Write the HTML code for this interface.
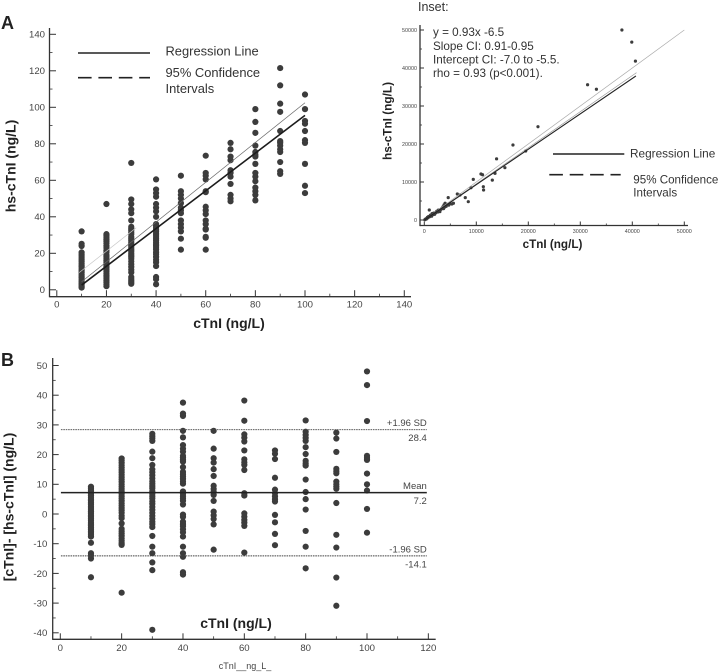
<!DOCTYPE html>
<html lang="en">
<head>
<meta charset="utf-8">
<title>cTnI vs hs-cTnI</title>
<style>
html,body{margin:0;padding:0;background:#fff;}
svg{display:block;font-family:"Liberation Sans",sans-serif;}
</style>
</head>
<body>
<svg id="chart" xmlns="http://www.w3.org/2000/svg" width="723" height="672" viewBox="0 0 723 672">
  <rect x="0" y="0" width="723" height="672" fill="#fff"/>
  <text x="1" y="29" font-size="18" font-weight="bold" fill="#222">A</text>
  <text x="1" y="366" font-size="18" font-weight="bold" fill="#222">B</text>

  <g id="panelA"></g>
  <g id="panelInset"></g>
  <g id="panelB"></g>

  <text x="229" y="328" text-anchor="middle" font-size="14" font-weight="bold" fill="#222">cTnI (ng/L)</text>
  <text transform="translate(15.5,166) rotate(-90)" text-anchor="middle" font-size="14" font-weight="bold" fill="#222">hs-cTnI (ng/L)</text>

  <g>
    <line x1="78" x2="150" y1="53" y2="53" stroke="#222" stroke-width="1.4"/>
    <line x1="78" x2="150" y1="77.7" y2="77.7" stroke="#222" stroke-width="1.6" stroke-dasharray="13.6 6.8"/>
    <text x="165.5" y="55.5" font-size="12.9" fill="#333">Regression Line</text>
    <text x="165.5" y="77" font-size="12.9" fill="#333">95% Confidence</text>
    <text x="165.5" y="93" font-size="12.9" fill="#333">Intervals</text>
  </g>

  <text x="418" y="11" font-size="12.5" fill="#333">Inset:</text>
  <g font-size="11.7" fill="#333">
    <text x="433" y="36">y = 0.93x -6.5</text>
    <text x="433" y="50">Slope CI: 0.91-0.95</text>
    <text x="433" y="63.5">Intercept CI: -7.0 to -5.5.</text>
    <text x="433" y="77">rho = 0.93 (p&lt;0.001).</text>
  </g>
  <g>
    <line x1="553" x2="624.3" y1="154" y2="154" stroke="#222" stroke-width="1.4"/>
    <line x1="549.3" x2="620.7" y1="174.7" y2="174.7" stroke="#222" stroke-width="1.6" stroke-dasharray="13.6 6.8"/>
    <text x="630" y="157.5" font-size="11.8" fill="#333">Regression Line</text>
    <text x="633.3" y="183.5" font-size="11.6" fill="#333">95% Confidence</text>
    <text x="633.3" y="196.7" font-size="11.6" fill="#333">Intervals</text>
  </g>
  <text x="552.5" y="248" text-anchor="middle" font-size="11.7" font-weight="bold" fill="#222">cTnI (ng/L)</text>
  <text transform="translate(391.7,121) rotate(-90)" text-anchor="middle" font-size="11.8" font-weight="bold" fill="#222">hs-cTnI (ng/L)</text>

  <text x="236" y="628" text-anchor="middle" font-size="14" font-weight="bold" fill="#222">cTnI (ng/L)</text>
  <text transform="translate(13.5,507) rotate(-90)" text-anchor="middle" font-size="14" font-weight="bold" fill="#222">[cTnI]- [hs-cTnI] (ng/L)</text>
  <text x="245" y="669" text-anchor="middle" font-size="9" fill="#444">cTnI__ng_L_</text>
</svg>

<script>
// Panel A data
const aCategories = [10, 20, 30, 40, 50, 60, 70, 80, 90, 100];
const aVals10 = [32, 25.2, 24, 20.5, 19.5, 18.5, 17.5, 16.5, 15.5, 14.5, 13.5, 12.5, 11.5, 10.5, 9.5, 8.5, 7.5, 6.5, 5.5, 4.5, 3.5, 2.8, 2, 1.2];
const aVals20 = [47, 30.5, 29.5, 28.5, 27.5, 26.5, 25.5, 24, 23, 21.5, 20.5, 19, 18, 17, 16, 15, 14, 13, 12, 11, 10, 9, 8, 7, 6, 5, 4, 3, 2];
const aVals30 = [69.5, 49.5, 47, 44, 42, 38, 34.5, 33.5, 32.5, 31.5, 30.5, 29, 28, 27, 26, 25, 24, 23, 22, 21, 20, 19, 18, 17, 15.5, 14, 12.5, 11, 9.5, 7, 6, 5, 4, 3.3];
const aVals40 = [60.5, 55, 53, 51, 47, 45, 43, 40, 36, 35, 34, 33, 32, 31, 30, 29, 28, 27, 26, 25, 24, 23, 22, 20.5, 19.5, 18, 16.5, 15, 13, 7, 5.8, 3];
const aVals50 = [62.5, 54, 52, 50, 47.5, 45, 43.5, 42, 38, 36, 34, 32, 28, 22];
const aVals60 = [73.5, 64, 62.5, 60.5, 54, 53.5, 45.5, 43.5, 41.5, 38, 36, 33.5, 33, 29, 28.5, 22];
const aVals70 = [80.5, 77, 73, 71, 65.5, 64, 62, 58, 52, 50, 48.5];
const aVals80 = [99, 92, 86, 79, 75.5, 74, 73, 69, 64, 62, 59.5, 56, 54, 52, 49];
const aVals90 = [121.5, 112, 102, 97.5, 87, 81.5, 80.5, 79, 77, 75.5, 70, 65, 63.5];
const aVals100 = [107, 99, 92.5, 91, 87, 82, 80.5, 69, 57, 53];
const aGroups = [aVals10, aVals20, aVals30, aVals40, aVals50, aVals60, aVals70, aVals80, aVals90, aVals100];
const aRegressionX = [10, 100];
const aRegressionY = [2.6, 95.6];
const aUpperCIX = [10, 100];
const aUpperCIY = [4.4, 102.5];
const aLightLineX = [9, 32];
const aLightLineY = [9.4, 34];
const aXTicks = [0, 20, 40, 60, 80, 100, 120, 140];
const aYTicks = [0, 20, 40, 60, 80, 100, 120, 140];
const aXMinor = [10, 30, 50, 70, 90, 110, 130];
const aYMinor = [10, 30, 50, 70, 90, 110, 130];

// Inset data
const insetX = [38000, 39900, 40600, 31400, 33100, 21860, 17050, 13900, 19500, 15500, 13600, 10900, 11200, 13080, 11350, 11400, 9420, 8970, 8460, 7880, 6350, 6860, 4600, 960,
  100, 200, 300, 400, 500, 600, 700, 800, 1000, 1100, 1200, 1400, 1500, 1700, 1800, 2000, 2200, 2400, 2600, 2700, 2900, 3000, 3200, 3400, 3600, 3700, 3800, 3900, 4000, 4200, 4400, 4700, 5000, 5300, 5600];
const insetY = [50000, 46800, 41800, 35600, 34400, 24560, 19740, 16100, 18160, 13770, 12280, 12100, 11900, 10500, 8770, 7900, 10700, 8500, 4820, 5880, 6840, 6580, 5880, 2630,
  80, 150, 300, 250, 450, 700, 600, 900, 850, 1100, 1300, 1000, 1700, 1400, 1800, 1500, 1900, 2300, 2100, 2600, 2500, 2200, 2800, 3100, 3500, 3000, 4000, 3400, 4400, 3600, 4100, 3900, 4300, 4200, 4400];
const insetRegressionX = [0, 40700];
const insetRegressionY = [0, 37900];
const insetCIX = [0, 40800];
const insetCIY = [0, 38770];
const insetIdentityX = [0, 50000];
const insetIdentityY = [0, 50000];
const insetTicks = [0, 10000, 20000, 30000, 40000, 50000];
const insetMinor = [5000, 15000, 25000, 35000, 45000];

// Panel B data
const bCategories = [10, 20, 30, 40, 50, 60, 70, 80, 90, 100];
const bVals10 = [9.2, 8.6, 8, 7.4, 6.8, 6.2, 5.6, 5, 4.4, 3.8, 3.2, 2.6, 2, 1.4, 0.8, 0.2, -0.4, -1, -1.6, -2.2, -2.8, -3.4, -4, -4.6, -5.2, -5.8, -6.4, -7, -7.6, -9.7, -13.2, -14, -15, -21.3];
const bVals20 = [18.7, 18, 17.2, 16.4, 15.6, 14.8, 14, 13.2, 12.4, 11.6, 10.8, 10, 9.2, 8.4, 7.6, 6.8, 6, 5.2, 4.4, 3.6, 2.8, 2, 1.2, 0.4, -0.6, -1.4, -3.2, -5, -5.8, -6.6, -7.4, -8.2, -9, -9.8, -10.4, -26.5];
const bVals30 = [27, 26.2, 25.5, 24.6, 21, 18.8, 16.5, 15, 14, 13, 12, 11, 10.2, 9.4, 8.6, 7.6, 6.8, 6, 5.2, 4.2, 3.4, 2.4, 1.4, 0.4, -0.6, -1.6, -2.6, -3.4, -4.4, -7.4, -11, -13.2, -16.3, -18.9, -39];
const bVals40 = [37.5, 33.8, 33, 28, 25.8, 23.2, 22, 21, 19.6, 19, 18.2, 17.6, 15.8, 14.2, 13.4, 12.6, 11.8, 11, 10.2, 7.6, 6.8, 6, 5.2, 4.4, 3.2, -0.2, -1, -2.6, -3.4, -4.2, -5.2, -6.2, -7.6, -11, -13.2, -14.4, -19.6, -20.4];
const bVals50 = [28, 22, 18.8, 17.3, 15.1, 12.8, 9.5, 8.4, 7.5, 6.4, 4.4, 0.8, -0.5, -1.7, -3.5, -12];
const bVals60 = [38.2, 31.4, 26.8, 25.7, 24.4, 21.4, 18.4, 17.4, 16.5, 14.8, 7, 6.2, 0.2, -0.9, -2, -2.9, -4, -13];
const bVals70 = [21.4, 20.3, 18.5, 12.2, 8.2, 7, 5.9, 5, 4.2, -0.3, -2.8, -6.7, -10.5];
const bVals80 = [31.5, 27.7, 26.6, 25.6, 24.6, 22.5, 20.2, 17.9, 17, 16.3, 11.6, 7.4, 5, 1.5, -5.7, -11, -18.3];
const bVals90 = [27.4, 25.4, 20.9, 15.2, 14.4, 13.7, 10.9, 10, 9.2, 8.5, 3.7, -7, -11.3, -21.4, -30.9];
const bVals100 = [48, 43.4, 31.3, 19.6, 18.9, 18.2, 13.6, 10, 7.9, 1.7, -6.3];
const bGroups = [bVals10, bVals20, bVals30, bVals40, bVals50, bVals60, bVals70, bVals80, bVals90, bVals100];
const bLineRange = [0.2, 119.5];
const bMean = 7.2;
const bUpper = 28.4;
const bLower = -14.1;
const bXTicks = [0, 20, 40, 60, 80, 100, 120];
const bXMinor = [10, 30, 50, 70, 90, 110];
const bYTicks = [-40, -30, -20, -10, 0, 10, 20, 30, 40, 50];
const bYMinor = [-35, -25, -15, -5, 5, 15, 25, 35, 45];
const bLabelTop = ["+1.96 SD", "Mean", "-1.96 SD"];
const bLabelBottom = ["28.4", "7.2", "-14.1"];

// Axis functions
const NS = 'http://www.w3.org/2000/svg';
const axA = { x: v => 56.8 + 2.482 * v, y: v => 289.8 - 1.825 * v };
const axI = { x: v => 424.3 + 0.0052 * v, y: v => 220 - 0.0038 * v };
const axB = { x: v => 60.3 + 3.067 * v, y: v => 514 - 2.97 * v };

function lineEl(parent, x1, y1, x2, y2, stroke, width, dash) {
  const l = document.createElementNS(NS, 'line');
  l.setAttribute('x1', x1);
  l.setAttribute('y1', y1);
  l.setAttribute('x2', x2);
  l.setAttribute('y2', y2);
  l.setAttribute('stroke', stroke);
  l.setAttribute('stroke-width', width);
  if (dash) l.setAttribute('stroke-dasharray', dash);
  parent.appendChild(l);
  return l;
}
function textEl(parent, x, y, str, size, anchor, fill) {
  const t = document.createElementNS(NS, 'text');
  t.setAttribute('x', x);
  t.setAttribute('y', y);
  t.setAttribute('font-size', size);
  t.setAttribute('text-anchor', anchor);
  t.setAttribute('fill', fill);
  t.textContent = str;
  parent.appendChild(t);
  return t;
}
function dotEl(parent, x, y, r) {
  const c = document.createElementNS(NS, 'circle');
  c.setAttribute('cx', x);
  c.setAttribute('cy', y);
  c.setAttribute('r', r);
  c.setAttribute('fill', '#3c3c3c');
  parent.appendChild(c);
  return c;
}
function drawAxes(g, ax, o) {
  const stroke = '#333';
  const sx = lineEl(g, o.spineX, o.top, o.spineX, o.spineY + 0.6, stroke, 1.3);
  
  
  const sy = lineEl(g, o.spineX, o.spineY, o.right, o.spineY, stroke, 1.3);
  
  
  o.xTicks.forEach(v => {
    const t = lineEl(g, ax.x(v), o.spineY, ax.x(v), o.spineY - o.majorLen, stroke, 1);
    
    
    const lb = textEl(g, ax.x(v), o.xLabelY, String(v), o.font, 'middle', '#444');
    
    
  });
  o.xMinor.forEach(v => {
    const t = lineEl(g, ax.x(v), o.spineY, ax.x(v), o.spineY - o.minorLen, stroke, 0.8);
    
    
  });
  o.yTicks.forEach(v => {
    const t = lineEl(g, o.spineX, ax.y(v), o.spineX + o.majorLen, ax.y(v), stroke, 1);
    
    
    const lb = textEl(g, o.yLabelX, ax.y(v) + o.font * 0.35, String(v), o.font, 'end', '#444');
    
    
  });
  o.yMinor.forEach(v => {
    const t = lineEl(g, o.spineX, ax.y(v), o.spineX + o.minorLen, ax.y(v), stroke, 0.8);
    
    
  });
}

// Panel A
const gA = document.getElementById('panelA');
drawAxes(gA, axA, { spineX: 49.5, spineY: 296.7, top: 28, right: 411, xTicks: aXTicks, xMinor: aXMinor, yTicks: aYTicks, yMinor: aYMinor, majorLen: 6.5, minorLen: 3, font: 9.6, xLabelY: 307.5, yLabelX: 45 });
aGroups.forEach((vals, i) => {
  vals.forEach(v => {
    const d = dotEl(gA, axA.x(aCategories[i]), axA.y(v), 3.1);
    
    
  });
});
const aLight = lineEl(gA, axA.x(aLightLineX[0]), axA.y(aLightLineY[0]), axA.x(aLightLineX[1]), axA.y(aLightLineY[1]), '#c8c8c8', 0.7);


const aCI = lineEl(gA, axA.x(aUpperCIX[0]), axA.y(aUpperCIY[0]), axA.x(aUpperCIX[1]), axA.y(aUpperCIY[1]), '#666', 0.7);


const aReg = lineEl(gA, axA.x(aRegressionX[0]), axA.y(aRegressionY[0]), axA.x(aRegressionX[1]), axA.y(aRegressionY[1]), '#1c1c1c', 1.6);



// Inset
const gI = document.getElementById('panelInset');
drawAxes(gI, axI, { spineX: 420, spineY: 225.5, top: 25, right: 688, xTicks: insetTicks, xMinor: insetMinor, yTicks: insetTicks, yMinor: insetMinor, majorLen: 4, minorLen: 2, font: 5.4, xLabelY: 233, yLabelX: 417 });
insetX.forEach((x, i) => {
  const d = dotEl(gI, axI.x(x), axI.y(insetY[i]), 1.6);
  
  
});
const iId = lineEl(gI, axI.x(insetIdentityX[0]), axI.y(insetIdentityY[0]), axI.x(insetIdentityX[1]), axI.y(insetIdentityY[1]), '#aaa', 0.7);


const iCI = lineEl(gI, axI.x(insetCIX[0]), axI.y(insetCIY[0]), axI.x(insetCIX[1]), axI.y(insetCIY[1]), '#999', 0.7);


const iReg = lineEl(gI, axI.x(insetRegressionX[0]), axI.y(insetRegressionY[0]), axI.x(insetRegressionX[1]), axI.y(insetRegressionY[1]), '#222', 1.1);



// Panel B
const gB = document.getElementById('panelB');
drawAxes(gB, axB, { spineX: 52.7, spineY: 639.3, top: 358, right: 435.7, xTicks: bXTicks, xMinor: bXMinor, yTicks: bYTicks, yMinor: bYMinor, majorLen: 6, minorLen: 3, font: 9.6, xLabelY: 651, yLabelX: 47.3 });
bGroups.forEach((vals, i) => {
  vals.forEach(v => {
    const d = dotEl(gB, axB.x(bCategories[i]), axB.y(v), 3.1);
    
    
  });
});
const bM = lineEl(gB, axB.x(bLineRange[0]), axB.y(bMean), axB.x(bLineRange[1]), axB.y(bMean), '#222', 1.5);


const bU = lineEl(gB, axB.x(bLineRange[0]), axB.y(bUpper), axB.x(bLineRange[1]), axB.y(bUpper), '#444', 0.9, '1.6 0.8');


const bL = lineEl(gB, axB.x(bLineRange[0]), axB.y(bLower), axB.x(bLineRange[1]), axB.y(bLower), '#444', 0.9, '1.6 0.8');


[bUpper, bMean, bLower].forEach((v, i) => {
  const top = textEl(gB, axB.x(bLineRange[1]), axB.y(v) - 3.5, bLabelTop[i], 9.5, 'end', '#444');
  
  
  const bot = textEl(gB, axB.x(bLineRange[1]), axB.y(v) + 11.5, bLabelBottom[i], 9.5, 'end', '#444');
  
  
});
</script>
</body>
</html>
